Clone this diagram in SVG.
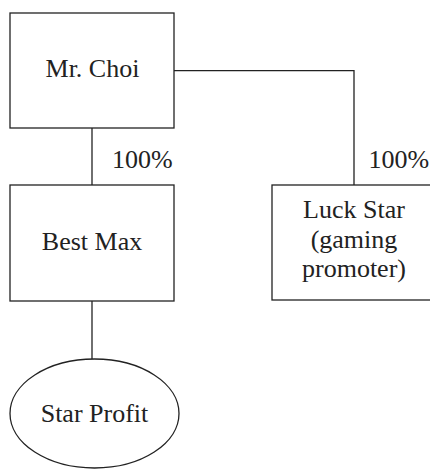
<svg xmlns="http://www.w3.org/2000/svg" width="430" height="469" viewBox="0 0 430 469">
<style>
.box{fill:#fff;stroke:#222;stroke-width:1.3}
.ln{fill:none;stroke:#222;stroke-width:1.3}
text{font-family:"Liberation Serif","Times New Roman",serif;font-size:26px;fill:#222}
.c{text-anchor:middle}
</style>
<rect width="430" height="469" fill="#fff"/>
<g id="connectors">
<path class="ln" d="M92 128V185"/>
<path class="ln" d="M174 70.7H354V185"/>
<path class="ln" d="M92 301V359"/>
<text x="112" y="168">100%</text>
<text x="368.5" y="168">100%</text>
</g>
<g id="mr-choi">
<rect class="box" x="10" y="13" width="164" height="115"/>
<text class="c" x="92.5" y="77">Mr. Choi</text>
</g>
<g id="best-max">
<rect class="box" x="10" y="185" width="164" height="116"/>
<text class="c" x="92" y="250">Best Max</text>
</g>
<g id="luck-star">
<rect class="box" x="272" y="185" width="164" height="115"/>
<text class="c" x="354" y="218">Luck Star</text>
<text class="c" x="354" y="248">(gaming</text>
<text class="c" x="354" y="277">promoter)</text>
</g>
<g id="star-profit">
<ellipse class="box" cx="94.5" cy="413.5" rx="84.5" ry="54.5"/>
<text class="c" x="94.5" y="421.5">Star Profit</text>
</g>
</svg>
